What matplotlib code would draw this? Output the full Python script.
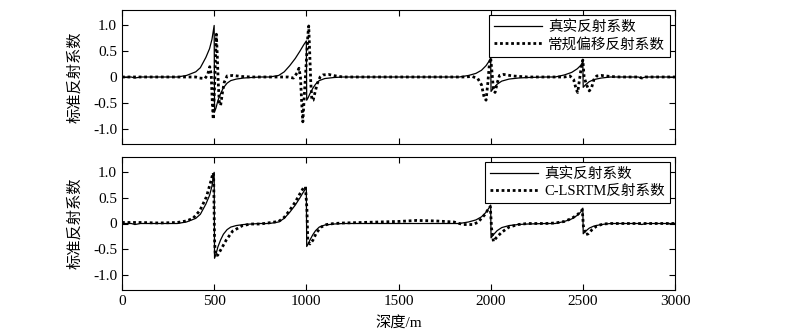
import matplotlib
matplotlib.use("Agg")
import matplotlib.pyplot as plt

plt.rcParams['font.family'] = ['Liberation Serif', 'Noto Sans CJK SC']
plt.rcParams['axes.unicode_minus'] = False

# true reflection coefficient (normalised)
true_depth = [0, 50, 70, 100, 300, 350, 400, 425, 455, 475, 488, 500, 502, 510, 520, 535, 550,
              570, 590, 620, 660, 700, 750, 800, 850, 880, 910, 940, 965, 985, 1000, 1002, 1010,
              1020, 1035, 1050, 1070, 1100, 1150, 1200, 1830, 1880, 1920, 1950, 1975, 1990, 2000,
              2002, 2015, 2035, 2060, 2100, 2150, 2200, 2300, 2350, 2400, 2440, 2470, 2490, 2500,
              2502, 2515, 2535, 2560, 2600, 2650, 2800, 2820, 2840, 3000]
true_val = [0, 0, -0.02, 0, 0, 0.03, 0.1, 0.18, 0.38, 0.55, 0.73, 1.0, -0.68, -0.6, -0.46, -0.32, -0.21,
            -0.12, -0.07, -0.04, -0.02, -0.01, 0, 0, 0.03, 0.1, 0.22, 0.36, 0.5, 0.62, 0.7, -0.45, -0.4,
            -0.32, -0.22, -0.14, -0.07, -0.03, -0.01, 0, 0, 0.03, 0.07, 0.13, 0.22, 0.3, 0.36,
            -0.28, -0.22, -0.14, -0.08, -0.04, -0.02, -0.01, 0, 0, 0.04, 0.09, 0.16, 0.23, 0.3,
            -0.2, -0.15, -0.09, -0.05, -0.02, 0, 0, -0.02, 0, 0]

# conventional migration reflection coefficient
rtm_depth = [0, 300, 400, 420, 450, 465, 476, 484, 490, 495, 502, 507, 512, 517, 522, 528, 535, 545,
             555, 570, 600, 650, 700, 900, 930, 950, 960, 968, 975, 981, 990, 1000, 1008, 1013, 1018,
             1024, 1030, 1037, 1047, 1060, 1075, 1090, 1120, 1160, 1200, 1850, 1900, 1930, 1950, 1965,
             1975, 1985, 1993, 2000, 2007, 2015, 2024, 2035, 2048, 2070, 2120, 2200, 2400, 2430, 2450,
             2465, 2472, 2482, 2492, 2500, 2507, 2520, 2535, 2548, 2560, 2575, 2600, 2650, 2700, 2800,
             2820, 2840, 3000]
rtm_val = [0, 0, 0, -0.02, -0.03, 0.05, 0.2, 0.05, -0.5, -0.82, -0.2, 0.4, 0.83, 0.4, -0.1, -0.5, -0.55, -0.3,
           -0.1, 0.02, 0.03, 0.01, 0, 0, -0.02, 0.08, 0.17, 0.0, -0.5, -0.87, -0.3, 0.3, 0.8, 0.99, 0.5,
           -0.1, -0.45, -0.45, -0.3, -0.12, 0.0, 0.04, 0.05, 0.02, 0, 0, 0.01, -0.03, -0.15, -0.4,
           -0.45, -0.1, 0.25, 0.37, 0.1, -0.25, -0.3, -0.12, 0.03, 0.05, 0.02, 0, 0, 0.02, -0.05,
           -0.25, -0.3, -0.05, 0.2, 0.33, 0.0, -0.15, -0.27, -0.2, -0.05, 0.02, 0.03, 0.01, 0, 0,
           -0.02, 0, 0]

# C-LSRTM reflection coefficient
lsrtm_depth = [0, 100, 200, 300, 350, 385, 422, 458, 480, 494, 497, 502, 506, 519, 538, 566, 600, 654,
               700, 750, 850, 880, 910, 940, 965, 985, 995, 1003, 1008, 1020, 1035, 1055, 1080, 1110,
               1150, 1200, 1300, 1500, 1600, 1700, 1800, 1850, 1900, 1930, 1950, 1970, 1990, 1998,
               2005, 2015, 2030, 2060, 2100, 2150, 2200, 2300, 2350, 2400, 2440, 2470, 2490, 2497,
               2503, 2515, 2530, 2550, 2575, 2610, 2650, 3000]
lsrtm_val = [0.02, 0.02, 0.01, 0.02, 0.05, 0.1, 0.25, 0.52, 0.8, 0.99, 0.95, -0.3, -0.62, -0.62, -0.5, -0.32,
             -0.15, -0.04, -0.01, -0.01, 0.04, 0.12, 0.26, 0.42, 0.58, 0.7, 0.72, 0.3, -0.35, -0.4, -0.33,
             -0.18, -0.07, -0.02, 0.0, 0.01, 0.02, 0.04, 0.06, 0.05, 0.03, -0.02, -0.02, 0.02, 0.1,
             0.18, 0.3, 0.33, -0.1, -0.35, -0.28, -0.17, -0.07, -0.02, 0, 0, 0.01, 0.04, 0.1, 0.17,
             0.24, 0.27, -0.05, -0.22, -0.2, -0.12, -0.05, -0.01, 0, 0]

yticks = [-1.0, -0.5, 0, 0.5, 1.0]
ytick_labels = ['-1.0', '-0.5', '0', '0.5', '1.0']
xticks = [0, 500, 1000, 1500, 2000, 2500, 3000]

fig = plt.figure(figsize=(8, 3.29), dpi=100)
ax1 = fig.add_axes([122 / 800, 185 / 329, 553 / 800, 134 / 329])
ax2 = fig.add_axes([122 / 800, 39 / 329, 553 / 800, 133 / 329])

dot = (0, (1, 1))
ax1.plot(true_depth, true_val, color='black', lw=0.9, label='真实反射系数')
ax1.plot(rtm_depth, rtm_val, color='black', lw=2.0, linestyle=dot, label='常规偏移反射系数')
ax2.plot(true_depth, true_val, color='black', lw=0.9, label='真实反射系数')
ax2.plot(lsrtm_depth, lsrtm_val, color='black', lw=2.0, linestyle=dot, label='C-LSRTM反射系数')

for ax in (ax1, ax2):
    ax.set_xlim(0, 3000)
    ax.set_ylim(-1.3, 1.3)
    ax.set_xticks(xticks)
    ax.set_yticks(yticks)
    ax.set_yticklabels(ytick_labels)
    ax.tick_params(direction='in', top=True, right=True, length=4, width=0.8, labelsize=11)
    for s in ax.spines.values():
        s.set_linewidth(0.8)
    ax.set_ylabel('标准反射系数', fontsize=11, labelpad=8)
    leg = ax.legend(loc='upper right', fontsize=10.5, handlelength=3.3, handletextpad=0.4,
                    fancybox=False, frameon=True, borderaxespad=0.35, labelspacing=0.25,
                    borderpad=0.35)
    leg.get_frame().set_edgecolor('black')
    leg.get_frame().set_linewidth(0.8)
    leg.get_frame().set_alpha(1)

ax1.tick_params(labelbottom=False)
ax2.set_xlabel('深度/m', fontsize=11, labelpad=6)

fig.savefig('out.png', dpi=100)
